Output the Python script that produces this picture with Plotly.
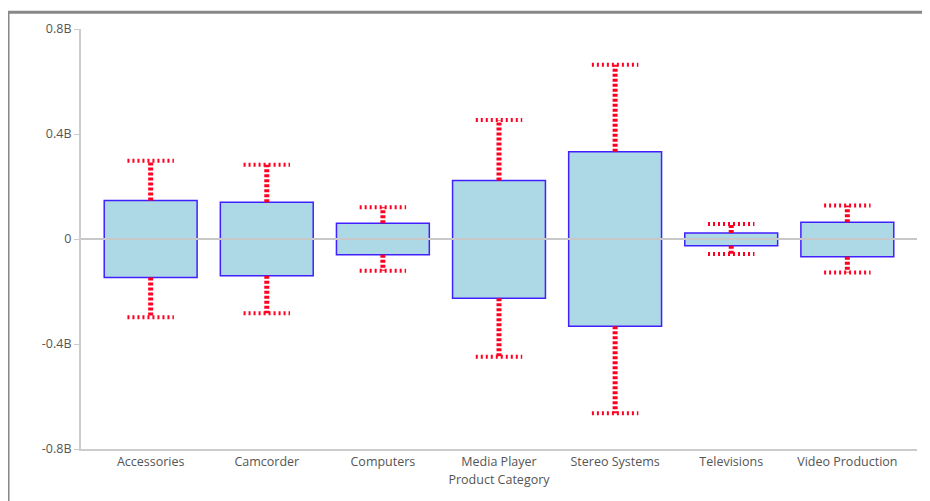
import plotly.graph_objects as go

# values, in billions
categories = ["Accessories", "Camcorder", "Computers", "Media Player",
              "Stereo Systems", "Televisions", "Video Production"]
upper_fence = [0.298, 0.283, 0.121, 0.453, 0.664, 0.057, 0.128]
q3 = [0.147, 0.140, 0.060, 0.223, 0.332, 0.023, 0.064]
q1 = [-0.147, -0.140, -0.060, -0.226, -0.332, -0.026, -0.068]
lower_fence = [-0.298, -0.283, -0.121, -0.449, -0.664, -0.057, -0.128]

y_ticks = [-0.8, -0.4, 0, 0.4, 0.8]
y_tick_text = ["-0.8B", "-0.4B", "0", "0.4B", "0.8B"]

idx = list(range(len(categories)))
cap_half = 0.2

fig = go.Figure()

# boxes as floating bars
fig.add_trace(go.Bar(
    x=idx,
    y=[a - b for a, b in zip(q3, q1)],
    base=q1,
    width=0.8,
    marker=dict(color="#add8e6", line=dict(color="#4020ff", width=1.5)),
    hoverinfo="skip",
))

# whisker stems
wx, wy = [], []
for i in idx:
    wx += [i, i, None, i, i, None]
    wy += [q3[i], upper_fence[i], None, q1[i], lower_fence[i], None]
fig.add_trace(go.Scatter(
    x=wx, y=wy, mode="lines",
    line=dict(color="#ff0022", width=5, dash="3px,2px"),
    hoverinfo="skip",
))

# whisker caps
cx, cy = [], []
for i in idx:
    cx += [i - cap_half, i + cap_half, None, i - cap_half, i + cap_half, None]
    cy += [upper_fence[i], upper_fence[i], None, lower_fence[i], lower_fence[i], None]
fig.add_trace(go.Scatter(
    x=cx, y=cy, mode="lines",
    line=dict(color="#ff0022", width=4, dash="2px,3px"),
    hoverinfo="skip",
))

fig.update_layout(
    width=930, height=501,
    margin=dict(l=73, r=21, t=17, b=60),
    paper_bgcolor="white", plot_bgcolor="white",
    showlegend=False,
    font=dict(family="Open Sans", size=12.5, color="#555555"),
    shapes=[
        # zero line over the boxes
        dict(type="line", xref="paper", yref="y", x0=0, x1=1, y0=0, y1=0,
             line=dict(color="#c8c8c8", width=2), layer="above"),
        # outer frame along the figure edge
        dict(type="rect", xref="paper", yref="paper",
             x0=-0.0873, x1=1.0251, y0=-0.1415, y1=1.0401,
             line=dict(color="#888888", width=3), layer="below"),
    ],
)

fig.update_xaxes(
    range=[-0.6, 6.6],
    tickmode="array", tickvals=idx, ticktext=categories,
    showgrid=False, zeroline=False,
    showline=True, linecolor="#cccccc", linewidth=2,
    ticks="", ticklen=0,
    title=dict(text="Product Category", standoff=6, font=dict(size=12.5, color="#555555")),
)
fig.update_yaxes(
    range=[-0.8, 0.8],
    tickmode="array", tickvals=y_ticks, ticktext=y_tick_text,
    showgrid=False, zeroline=False,
    showline=True, linecolor="#cccccc", linewidth=2,
    ticks="outside", ticklen=5, tickcolor="#cccccc", tickwidth=1,
)

fig.write_html("out.html")
